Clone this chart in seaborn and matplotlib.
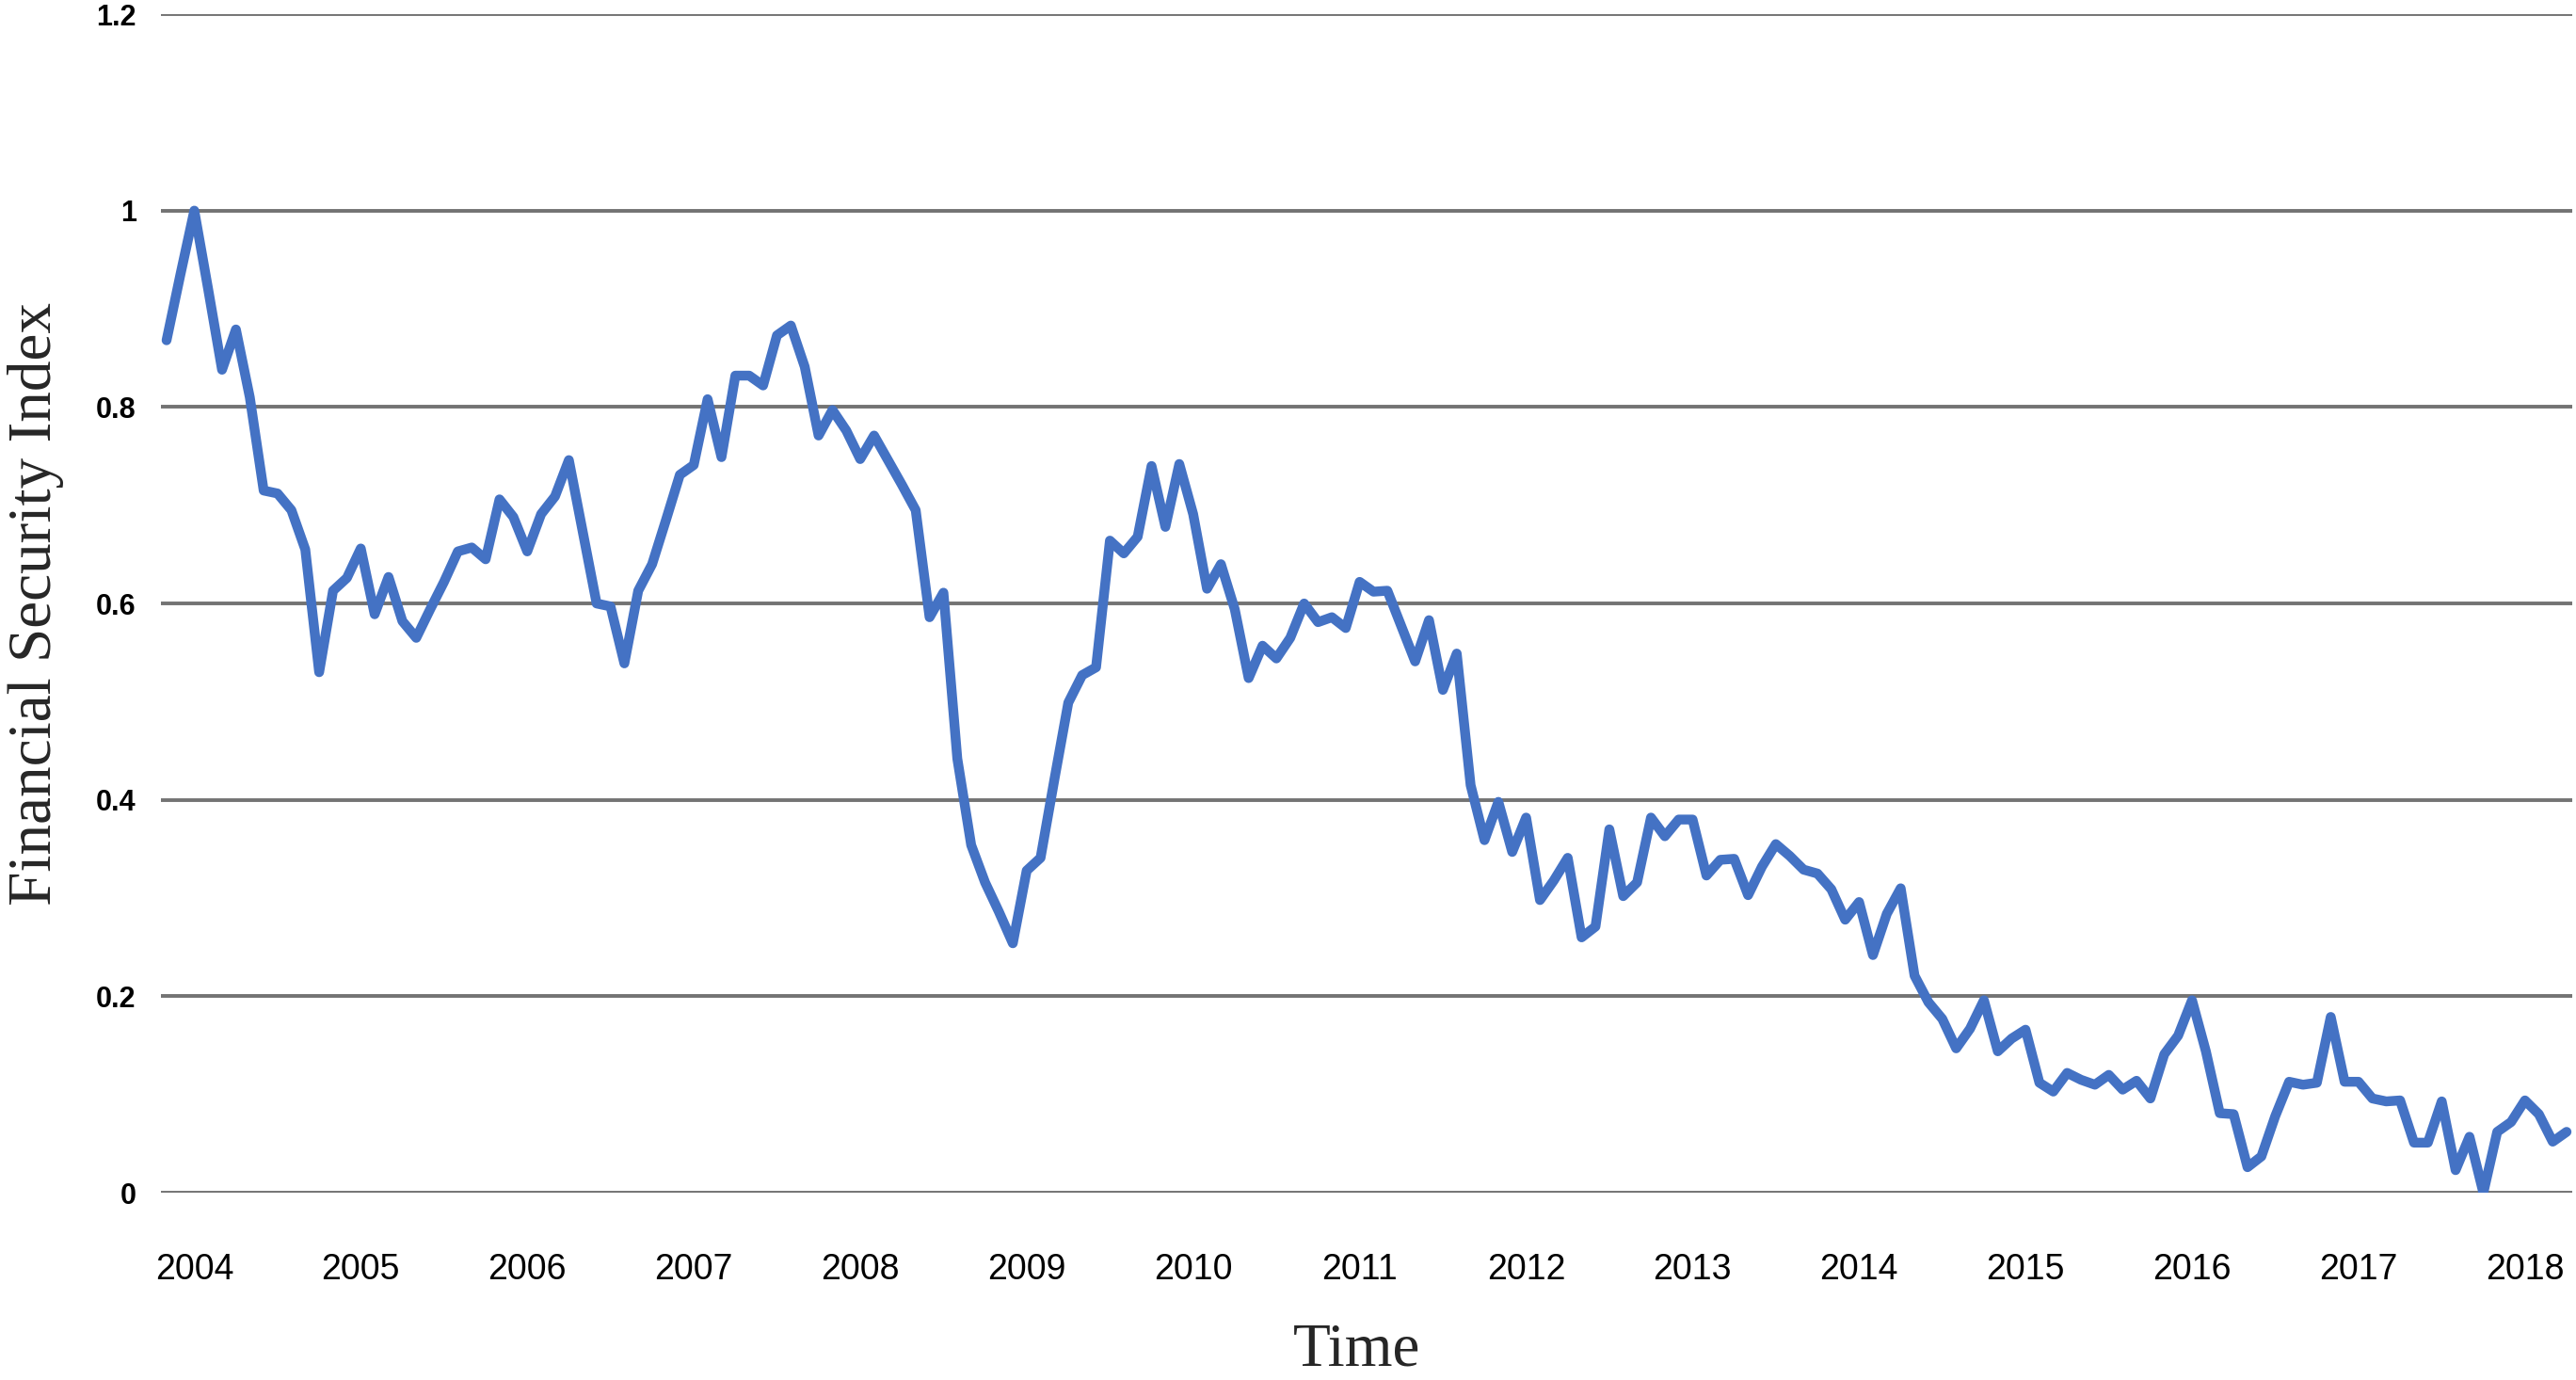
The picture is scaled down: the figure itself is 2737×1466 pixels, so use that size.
"""
Financial Security Index, monthly, Nov 2003 - Apr 2018
Single blue line over gray horizontal gridlines (Excel-style chart).
"""

import numpy as np
import pandas as pd
import matplotlib
matplotlib.use('Agg')
import matplotlib.pyplot as plt
import seaborn as sns

# monthly index values, grouped by calendar year
fsi_2003 = [0.868, 0.935]  # Nov, Dec
fsi_2004 = [1.0, 0.92, 0.838, 0.879, 0.81, 0.715, 0.712, 0.695, 0.655, 0.53, 0.613, 0.626]
fsi_2005 = [0.656, 0.589, 0.627, 0.582, 0.565, 0.594, 0.622, 0.653, 0.657, 0.645, 0.706, 0.688]
fsi_2006 = [0.653, 0.691, 0.709, 0.746, 0.673, 0.600, 0.597, 0.539, 0.613, 0.64, 0.685, 0.731]
fsi_2007 = [0.741, 0.808, 0.749, 0.832, 0.832, 0.822, 0.873, 0.883, 0.841, 0.771, 0.797, 0.776]
fsi_2008 = [0.747, 0.771, 0.746, 0.721, 0.695, 0.586, 0.611, 0.442, 0.354, 0.316, 0.286, 0.254]
fsi_2009 = [0.328, 0.341, 0.421, 0.499, 0.527, 0.535, 0.664, 0.651, 0.668, 0.74, 0.678, 0.742]
fsi_2010 = [0.691, 0.615, 0.64, 0.594, 0.524, 0.557, 0.544, 0.565, 0.6, 0.581, 0.586, 0.575]
fsi_2011 = [0.622, 0.612, 0.613, 0.577, 0.541, 0.583, 0.512, 0.549, 0.415, 0.359, 0.398, 0.347]
fsi_2012 = [0.382, 0.298, 0.318, 0.341, 0.26, 0.271, 0.37, 0.302, 0.316, 0.382, 0.363, 0.38]
fsi_2013 = [0.38, 0.323, 0.339, 0.34, 0.303, 0.332, 0.355, 0.343, 0.329, 0.325, 0.309, 0.278]
fsi_2014 = [0.296, 0.242, 0.284, 0.31, 0.221, 0.194, 0.177, 0.147, 0.167, 0.196, 0.144, 0.157]
fsi_2015 = [0.166, 0.112, 0.103, 0.122, 0.115, 0.11, 0.12, 0.105, 0.114, 0.096, 0.141, 0.160]
fsi_2016 = [0.196, 0.144, 0.081, 0.08, 0.026, 0.037, 0.078, 0.113, 0.11, 0.112, 0.179, 0.113]
fsi_2017 = [0.113, 0.096, 0.093, 0.094, 0.051, 0.051, 0.093, 0.023, 0.057, 0.0, 0.062, 0.072]
fsi_2018 = [0.094, 0.08, 0.052, 0.062]  # Jan - Apr

y_ticks = [0, 0.2, 0.4, 0.6, 0.8, 1.0, 1.2]
y_tick_labels = ['0', '0.2', '0.4', '0.6', '0.8', '1', '1.2']

LINE_COLOR = '#4472C4'
GRID_COLOR = '#737373'


def build_frame():
    values = (fsi_2003 + fsi_2004 + fsi_2005 + fsi_2006 + fsi_2007 + fsi_2008
              + fsi_2009 + fsi_2010 + fsi_2011 + fsi_2012 + fsi_2013 + fsi_2014
              + fsi_2015 + fsi_2016 + fsi_2017 + fsi_2018)
    months = pd.date_range('2003-11-01', '2018-04-01', freq='MS')
    df = pd.DataFrame({'month': months, 'fsi': values})
    # category axis: evenly spaced months
    df['pos'] = np.arange(len(df))
    return df


def plot_index(df):
    sns.set_theme(style='white')
    plt.rcParams['font.family'] = ['Liberation Sans', 'DejaVu Sans']

    fig = plt.figure(figsize=(27.37, 14.66), dpi=100)
    ax = fig.add_axes([0.0625, 0.1357, 0.936, 0.854])

    sns.lineplot(data=df, x='pos', y='fsi', ax=ax, color=LINE_COLOR,
                 linewidth=7.5, solid_joinstyle='round', solid_capstyle='round')

    ax.set_ylim(0, 1.2)
    ax.set_xlim(-0.4, len(df) - 1 + 0.4)

    ax.set_yticks(y_ticks)
    ax.set_yticklabels(y_tick_labels, fontsize=22, fontweight='bold')

    jan = df[df['month'].dt.month == 1]
    ax.set_xticks(jan['pos'])
    ax.set_xticklabels(jan['month'].dt.year.astype(str), fontsize=27)

    ax.yaxis.grid(True, color=GRID_COLOR, linewidth=2.8)
    ax.xaxis.grid(False)
    ax.set_axisbelow(True)
    for s in ax.spines.values():
        s.set_visible(False)
    ax.tick_params(axis='x', length=0, pad=46, colors='black')
    ax.tick_params(axis='y', length=0, pad=19, colors='black')

    ax.set_xlabel('Time', fontsize=47, family='Liberation Serif', va='center')
    ax.xaxis.set_label_coords(0.496, -0.134)
    ax.set_ylabel('Financial Security Index', fontsize=47, family='Liberation Serif', va='center')
    ax.yaxis.set_label_coords(-0.052, 0.5)

    fig.savefig('out.png', dpi=100)
    plt.close(fig)


if __name__ == "__main__":
    df = build_frame()
    plot_index(df)
